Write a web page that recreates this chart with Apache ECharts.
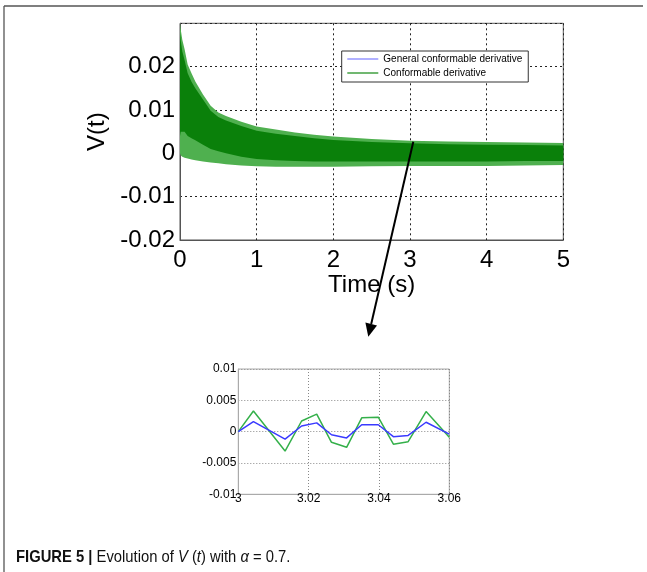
<!DOCTYPE html>
<html><head><meta charset="utf-8">
<script src="https://cdn.jsdelivr.net/npm/echarts@6/dist/echarts.min.js"></script>
<style>html,body{margin:0;padding:0;background:#fff}#c{width:647px;height:572px}</style>
</head><body><div id="c"></div>
<script>
// Main chart: envelope of the densely oscillating response
const envT       = [0, 0.01, 0.03, 0.06, 0.1, 0.15, 0.2, 0.3, 0.4, 0.5, 0.6, 0.8, 1.0, 1.25, 1.5, 1.75, 2.0, 2.5, 3.0, 3.5, 4.0, 4.5, 5.0];
const upperOuter = [0.030, 0.0285, 0.0262, 0.0240, 0.0205, 0.0185, 0.0166, 0.0136, 0.0110, 0.0094, 0.0086, 0.0073, 0.0062, 0.0055, 0.0048, 0.0043, 0.0039, 0.0033, 0.0029, 0.0027, 0.0026, 0.0025, 0.0024];
const lowerOuter = [0.0, -0.0005, -0.0008, -0.0010, -0.0012, -0.0014, -0.0016, -0.0019, -0.0021, -0.0023, -0.0025, -0.0028, -0.0030, -0.0031, -0.0031, -0.0031, -0.0031, -0.0030, -0.0029, -0.0029, -0.0029, -0.0028, -0.0027];
const upperInner = [0.028, 0.026, 0.0235, 0.0215, 0.0185, 0.0165, 0.0150, 0.0124, 0.0098, 0.0084, 0.0076, 0.0063, 0.0052, 0.0045, 0.0040, 0.0035, 0.0031, 0.0026, 0.0023, 0.0021, 0.0020, 0.0019, 0.0018];
const lowerInner = [0.004, 0.005, 0.005, 0.005, 0.004, 0.0035, 0.0030, 0.0020, 0.0010, 0.0005, 0.0, -0.0008, -0.0013, -0.0016, -0.0018, -0.0019, -0.0019, -0.0019, -0.0019, -0.0019, -0.0019, -0.0018, -0.0018];

// Inset: zoom on 3 .. 3.06 s
const insetT           = [3.0, 3.0043, 3.0133, 3.0180, 3.0223, 3.0265, 3.0308, 3.0351, 3.0398, 3.0441, 3.0483, 3.0534, 3.06];
const insetGeneral     = [0, 0.0016, -0.0012, 0.0009, 0.0014, -0.0005, -0.0010, 0.0011, 0.0011, -0.0008, -0.0006, 0.0015, -0.0004];
const insetConformable = [0, 0.0033, -0.0031, 0.0017, 0.0028, -0.0017, -0.0025, 0.0022, 0.0023, -0.0020, -0.0016, 0.0032, -0.0009];

const seriesNames = ['General conformable derivative', 'Conformable derivative'];
const captionParts = ['FIGURE 5 |', ' Evolution of ', 'V', ' (', 't', ') with ', 'α', ' = 0.7.'];

const FONT = 'Liberation Sans, Arial, sans-serif';
function pairs(xs, ys) { return xs.map((x, i) => [x, ys[i]]); }

// Band drawn as one polygon through the library's coordinate system
function bandSeries(name, lower, upper, color, z) {
  const rows = envT.map((t, i) => [t, lower[i], upper[i]]);
  return {
    type: 'custom', name: name, xAxisIndex: 0, yAxisIndex: 0, silent: true, z: z,
    data: rows, encode: { x: 0, y: [1, 2] },
    renderItem: function (params, api) {
      if (params.dataIndex !== 0) return null;
      const pts = [];
      for (let i = 0; i < rows.length; i++) pts.push(api.coord([rows[i][0], rows[i][2]]));
      for (let i = rows.length - 1; i >= 0; i--) pts.push(api.coord([rows[i][0], rows[i][1]]));
      return { type: 'polygon', shape: { points: pts }, style: { fill: color, stroke: null } };
    }
  };
}

const chart = echarts.init(document.getElementById('c'), null, { renderer: 'canvas' });
const option = {
  animation: false,
  backgroundColor: '#fff',
  textStyle: { fontFamily: FONT },
  grid: [
    { left: 180, top: 23.3, width: 383.3, height: 216.7, show: true, borderColor: '#555', borderWidth: 1, backgroundColor: 'transparent' },
    { left: 238.3, top: 369, width: 211, height: 125.3, show: true, borderColor: '#aaa', borderWidth: 1, backgroundColor: 'transparent' }
  ],
  xAxis: [
    { type: 'value', gridIndex: 0, min: 0, max: 5, interval: 1,
      axisLine: { show: true, onZero: false, lineStyle: { color: '#555', width: 1 } }, axisTick: { show: false },
      axisLabel: { fontSize: 24, color: '#000', margin: 8, fontFamily: FONT },
      splitLine: { show: true, lineStyle: { color: '#222', type: [2, 3], width: 1 } },
      name: 'Time (s)', nameLocation: 'middle', nameGap: 26,
      nameTextStyle: { fontSize: 24, color: '#000', fontFamily: FONT } },
    { type: 'value', gridIndex: 1, min: 3, max: 3.06, interval: 0.02,
      axisLine: { show: true, onZero: false, lineStyle: { color: '#aaa', width: 1 } }, axisTick: { show: false },
      axisLabel: { fontSize: 12, color: '#000', margin: -2, fontFamily: FONT },
      splitLine: { show: true, lineStyle: { color: '#888', type: [1, 2], width: 1 } } }
  ],
  yAxis: [
    { type: 'value', gridIndex: 0, min: -0.02, max: 0.03, interval: 0.01,
      axisLine: { show: true, onZero: false, lineStyle: { color: '#555', width: 1 } }, axisTick: { show: false },
      axisLabel: { fontSize: 24, color: '#000', margin: 5, showMaxLabel: false, fontFamily: FONT },
      splitLine: { show: true, lineStyle: { color: '#222', type: [2, 3], width: 1 } },
      name: 'V(t)', nameLocation: 'middle', nameGap: 60, nameRotate: 90,
      nameTextStyle: { fontSize: 24, color: '#000', fontFamily: FONT } },
    { type: 'value', gridIndex: 1, min: -0.01, max: 0.01, interval: 0.005,
      axisLine: { show: true, onZero: false, lineStyle: { color: '#aaa', width: 1 } }, axisTick: { show: false },
      axisLabel: { fontSize: 12, color: '#000', margin: 2, fontFamily: FONT },
      splitLine: { show: true, lineStyle: { color: '#888', type: [1, 2], width: 1 } } }
  ],
  legend: {
    orient: 'vertical', left: 341.7, top: 51, padding: [3, 6, 4, 5],
    itemWidth: 31, itemHeight: 10, itemGap: 4,
    backgroundColor: '#fff', borderColor: '#333', borderWidth: 1, borderRadius: 0,
    selectedMode: false,
    textStyle: { fontSize: 10, color: '#000', fontFamily: FONT },
    data: [
      { name: seriesNames[0], lineStyle: { color: '#7b7bff', width: 1.2 }, itemStyle: { color: 'rgba(0,0,0,0)', borderWidth: 0, opacity: 0 } },
      { name: seriesNames[1], lineStyle: { color: '#118811', width: 1.2 }, itemStyle: { color: 'rgba(0,0,0,0)', borderWidth: 0, opacity: 0 } }
    ],
    z: 10
  },
  series: [
    bandSeries('outerBand', lowerOuter, upperOuter, '#4fb04f', 2),
    bandSeries('innerBand', lowerInner, upperInner, '#0a800a', 3),
    { type: 'line', name: seriesNames[0], xAxisIndex: 1, yAxisIndex: 1, data: pairs(insetT, insetGeneral),
      symbol: 'none', lineStyle: { color: '#3a3aff', width: 1.5 }, itemStyle: { color: '#3a3aff' }, z: 3 },
    { type: 'line', name: seriesNames[1], xAxisIndex: 1, yAxisIndex: 1, data: pairs(insetT, insetConformable),
      symbol: 'none', lineStyle: { color: '#34b04a', width: 1.5 }, itemStyle: { color: '#34b04a' }, z: 2 }
  ],
  graphic: [
    { type: 'line', shape: { x1: 4, y1: 6, x2: 643, y2: 6 }, style: { stroke: '#555', lineWidth: 1.3 } },
    { type: 'line', shape: { x1: 4, y1: 6, x2: 4, y2: 572 }, style: { stroke: '#555', lineWidth: 1.3 } },
    { type: 'line', shape: { x1: 413.3, y1: 141.7, x2: 371.2, y2: 324 }, style: { stroke: '#000', lineWidth: 2 }, z: 20 },
    { type: 'polygon', shape: { points: [[368.3, 336.7], [377, 325.4], [365.4, 322.6]] }, style: { fill: '#000' }, z: 20 },
    { type: 'text', x: 16, y: 557, scaleX: 0.87, z: 20,
      style: {
        text: '{b|' + captionParts[0] + '}{n|' + captionParts[1] + '}{i|' + captionParts[2] + '}{n|' + captionParts[3] +
              '}{i|' + captionParts[4] + '}{n|' + captionParts[5] + '}{i|' + captionParts[6] + '}{n|' + captionParts[7] + '}',
        verticalAlign: 'middle',
        rich: {
          b: { fontFamily: FONT, fontWeight: 'bold', fontSize: 17, fill: '#111' },
          n: { fontFamily: FONT, fontSize: 17, fill: '#111' },
          i: { fontFamily: FONT, fontStyle: 'italic', fontSize: 17, fill: '#111' }
        }
      } }
  ]
};
chart.setOption(option);
</script></body></html>
